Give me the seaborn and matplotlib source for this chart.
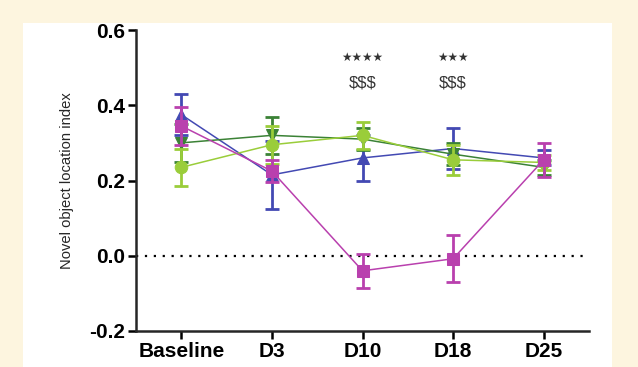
import numpy as np
import pandas as pd
import matplotlib
matplotlib.use("Agg")
import matplotlib.pyplot as plt
import seaborn as sns
from matplotlib.patches import Rectangle

days = ["Baseline", "D3", "D10", "D18", "D25"]

blue_mean = [0.375, 0.215, 0.26, 0.285, 0.26]
blue_err = [0.055, 0.09, 0.06, 0.055, 0.02]
dgreen_mean = [0.30, 0.32, 0.31, 0.27, 0.235]
dgreen_err = [0.05, 0.05, 0.03, 0.03, 0.02]
lgreen_mean = [0.235, 0.295, 0.32, 0.255, 0.248]
lgreen_err = [0.05, 0.05, 0.035, 0.04, 0.02]
mag_mean = [0.345, 0.225, -0.04, -0.008, 0.255]
mag_err = [0.05, 0.03, 0.045, 0.063, 0.045]

stars = ["", "", "★★★★", "★★★", ""]
dollars = ["", "", "$$$", "$$$", ""]

sns.set_style("ticks")
plt.rcParams["font.family"] = ["Liberation Sans", "DejaVu Sans"]

fig = plt.figure(figsize=(6.38, 3.67), dpi=100)
fig.patch.set_facecolor("#FDF5DF")
# white inner panel
fig.patches.append(Rectangle((23 / 638, 0), (612 - 23) / 638, 1 - 23 / 367,
                             transform=fig.transFigure, facecolor="white",
                             edgecolor="none", zorder=-10))
ax = fig.add_axes([136 / 638, 1 - 331 / 367, (589 - 136) / 638, (331 - 30) / 367])
ax.set_facecolor("none")

series = [
    ("blue", blue_mean, blue_err, "#4349B3", "^"),
    ("dgreen", dgreen_mean, dgreen_err, "#3B8236", "v"),
    ("lgreen", lgreen_mean, lgreen_err, "#9ACD3A", "o"),
    ("mag", mag_mean, mag_err, "#B940AE", "s"),
]

x = np.arange(len(days))
ax.axhline(0, color="black", linestyle=(0, (1, 3)), linewidth=1.6, zorder=1)

for i, (name, m, e, c, mk) in enumerate(series):
    df = pd.DataFrame({"x": x, "y": m})
    ax.errorbar(x, m, yerr=e, fmt="none", ecolor=c, elinewidth=2,
                capsize=5, capthick=2, zorder=2 + i)
    sns.lineplot(data=df, x="x", y="y", ax=ax, color=c, marker=mk,
                 markersize=9, markeredgecolor=c, linewidth=1.1,
                 zorder=2 + i)

for xi, s, d in zip(x, stars, dollars):
    if s:
        ax.text(xi, 0.528, s, ha="center", va="center", fontsize=8.5,
                color="#333333", family="DejaVu Sans")
        ax.text(xi, 0.46, d, ha="center", va="center", fontsize=12, color="#333333")

ax.set_xlim(-0.5, 4.5)
ax.set_ylim(-0.2, 0.6)
ax.set_yticks([-0.2, 0.0, 0.2, 0.4, 0.6])
ax.set_yticklabels(["-0.2", "0.0", "0.2", "0.4", "0.6"])
ax.set_xticks(x)
ax.set_xticklabels(days)
for lab in ax.get_xticklabels() + ax.get_yticklabels():
    lab.set_fontweight("bold")
    lab.set_fontsize(15)
ax.tick_params(axis="both", length=6, width=1.8, direction="out", pad=2, colors="black")
ax.set_xlabel("")
ax.set_ylabel("Novel object location index", fontsize=10.6)
ax.yaxis.set_label_coords(-0.137, 0.5)
for sp in ["left", "bottom"]:
    ax.spines[sp].set_linewidth(1.8)
sns.despine(ax=ax)

fig.savefig("out.png", dpi=100, facecolor=fig.get_facecolor())
